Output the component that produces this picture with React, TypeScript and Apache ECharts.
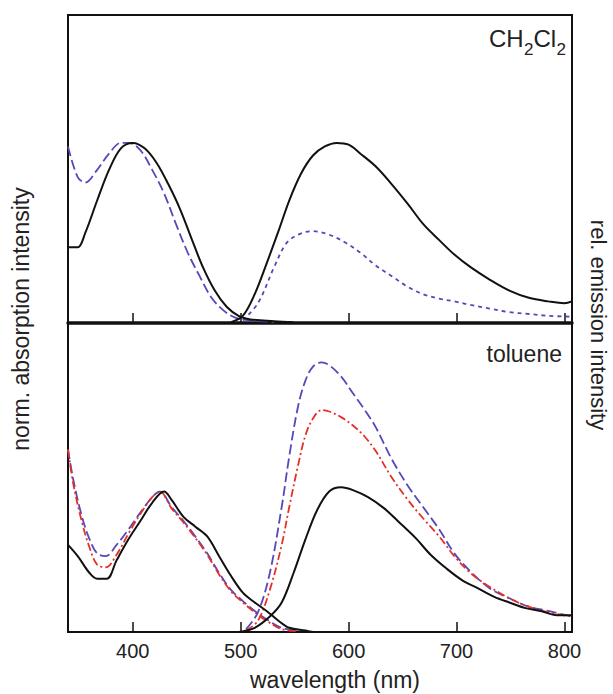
import React, { useEffect, useRef } from "react";
import * as echarts from "echarts";

// ---------- data (wavelength in nm, normalized intensity) ----------
// CH2Cl2 panel
const TOP_ABS_BLACK_X = [340, 349, 356, 367, 378, 389, 400, 411, 422, 433, 444, 455, 465, 476, 487, 498, 509, 531, 549];
const TOP_ABS_BLACK_Y = [0.42, 0.42, 0.5, 0.68, 0.85, 0.97, 1.0, 0.97, 0.89, 0.77, 0.63, 0.46, 0.31, 0.18, 0.09, 0.04, 0.02, 0.01, 0.004];

const TOP_ABS_BLUE_X = [340, 349, 356, 367, 378, 389, 396, 407, 418, 429, 440, 451, 462, 473, 484, 495, 509, 531];
const TOP_ABS_BLUE_Y = [0.98, 0.81, 0.78, 0.85, 0.94, 1.0, 1.0, 0.96, 0.85, 0.72, 0.55, 0.39, 0.26, 0.14, 0.07, 0.03, 0.015, 0.005];

const TOP_EM_BLACK_X = [491, 502, 513, 524, 535, 545, 556, 567, 578, 589, 600, 611, 625, 640, 655, 669, 684, 698, 713, 731, 749, 767, 785, 800, 807];
const TOP_EM_BLACK_Y = [0.005, 0.04, 0.16, 0.33, 0.51, 0.68, 0.83, 0.93, 0.98, 1.0, 0.99, 0.94, 0.87, 0.77, 0.66, 0.55, 0.46, 0.38, 0.31, 0.24, 0.18, 0.14, 0.12, 0.11, 0.12];

const TOP_EM_BLUE_X = [502, 516, 531, 542, 553, 567, 582, 596, 611, 625, 640, 655, 669, 684, 698, 713, 731, 749, 767, 785, 807];
const TOP_EM_BLUE_Y = [0.015, 0.11, 0.31, 0.44, 0.49, 0.51, 0.49, 0.45, 0.39, 0.32, 0.26, 0.2, 0.16, 0.135, 0.12, 0.1, 0.08, 0.06, 0.05, 0.04, 0.035];

// toluene panel
const BOT_ABS_BLACK_X = [340, 349, 360, 367, 376, 385, 396, 407, 418, 429, 436, 447, 458, 469, 480, 491, 502, 513, 524, 535, 545, 560, 567];
const BOT_ABS_BLACK_Y = [0.62, 0.54, 0.42, 0.38, 0.38, 0.51, 0.66, 0.79, 0.92, 1.0, 0.94, 0.82, 0.75, 0.68, 0.54, 0.4, 0.28, 0.21, 0.15, 0.08, 0.03, 0.01, 0.0];

const BOT_ABS_BLUE_X = [340, 345, 353, 360, 367, 375, 385, 396, 407, 418, 425, 436, 447, 458, 469, 480, 491, 502, 513, 524, 538, 553];
const BOT_ABS_BLUE_Y = [1.3, 1.08, 0.82, 0.66, 0.56, 0.54, 0.62, 0.73, 0.85, 0.96, 1.0, 0.89, 0.79, 0.68, 0.56, 0.42, 0.3, 0.22, 0.15, 0.09, 0.03, 0.01];

const BOT_ABS_RED_X = [340, 345, 353, 360, 367, 375, 385, 396, 407, 418, 425, 436, 447, 458, 469, 480, 491, 502, 513, 524, 538, 553];
const BOT_ABS_RED_Y = [1.3, 1.05, 0.78, 0.6, 0.48, 0.46, 0.55, 0.7, 0.84, 0.96, 1.0, 0.88, 0.78, 0.67, 0.55, 0.41, 0.29, 0.21, 0.14, 0.08, 0.02, 0.005];

const BOT_EM_BLACK_X = [498, 513, 527, 538, 549, 560, 571, 582, 593, 604, 618, 633, 647, 662, 676, 691, 705, 720, 735, 749, 764, 778, 793, 807];
const BOT_EM_BLACK_Y = [0.0, 0.03, 0.11, 0.21, 0.42, 0.66, 0.87, 1.0, 1.03, 1.01, 0.96, 0.88, 0.78, 0.67, 0.55, 0.45, 0.37, 0.31, 0.25, 0.21, 0.17, 0.15, 0.12, 0.12];

const BOT_EM_BLUE_X = [505, 516, 527, 538, 545, 553, 560, 567, 575, 582, 593, 604, 615, 625, 640, 655, 669, 684, 698, 713, 731, 749, 767, 785, 807];
const BOT_EM_BLUE_Y = [0.02, 0.14, 0.42, 0.89, 1.25, 1.6, 1.79, 1.89, 1.92, 1.9, 1.82, 1.7, 1.58, 1.46, 1.23, 1.04, 0.89, 0.73, 0.56, 0.43, 0.31, 0.24, 0.18, 0.15, 0.11];

const BOT_EM_RED_X = [505, 516, 527, 538, 545, 553, 560, 567, 575, 582, 593, 604, 615, 625, 640, 655, 669, 684, 698, 713, 731, 749, 767, 785, 807];
const BOT_EM_RED_Y = [0.01, 0.08, 0.3, 0.62, 0.89, 1.18, 1.4, 1.52, 1.58, 1.57, 1.53, 1.47, 1.39, 1.29, 1.1, 0.94, 0.81, 0.68, 0.54, 0.42, 0.32, 0.24, 0.18, 0.14, 0.11];

const X_TICKS = [400, 500, 600, 700, 800];
const X_MIN = 340;
const X_MAX = 807;
const TOP_Y_MAX = 1.71;
const BOT_Y_MAX = 2.2;

const FONT = "'Liberation Sans', Arial, Helvetica, sans-serif";
const BLACK = "#111111";
const BLUE = "#5548b8";
const RED = "#e5302a";

function pairs(xs: number[], ys: number[]) {
  return xs.map((x, i) => [x, ys[i]]);
}

function line(name: string, xs: number[], ys: number[], color: string, type: any, width: number, gridIdx: number, z: number) {
  return {
    name,
    type: "line",
    xAxisIndex: gridIdx,
    yAxisIndex: gridIdx,
    data: pairs(xs, ys),
    smooth: 0.35,
    symbol: "none",
    showSymbol: false,
    z,
    lineStyle: { color, width, type },
  };
}

export default function App() {
  const ref = useRef<HTMLDivElement>(null);
  useEffect(() => {
    document.body.style.margin = "0";
    const chart = echarts.init(ref.current!, null, { renderer: "svg" });
    const xAxisBase = (gridIndex: number, lineWidth: number, showLabels: boolean) => ({
      type: "value",
      gridIndex,
      min: X_MIN,
      max: X_MAX,
      splitLine: { show: false },
      axisLine: { show: true, onZero: false, lineStyle: { color: BLACK, width: lineWidth } },
      axisTick: {
        show: true,
        inside: true,
        length: 10,
        customValues: X_TICKS,
        lineStyle: { color: BLACK, width: 1.5 },
      },
      axisLabel: {
        show: showLabels,
        customValues: X_TICKS,
        fontSize: 20,
        fontFamily: FONT,
        color: "#222",
        margin: 9,
      },
    });
    const option = {
      animation: false,
      backgroundColor: "#ffffff",
      grid: [
        { left: 68, top: 15, width: 504, height: 308, show: true, borderColor: BLACK, borderWidth: 2, backgroundColor: "transparent" },
        { left: 68, top: 323, width: 504, height: 309, show: true, borderColor: BLACK, borderWidth: 2, backgroundColor: "transparent" },
      ],
      xAxis: [xAxisBase(0, 3.5, false), xAxisBase(1, 2, true)],
      yAxis: [
        { type: "value", gridIndex: 0, min: 0, max: TOP_Y_MAX, show: false },
        { type: "value", gridIndex: 1, min: 0, max: BOT_Y_MAX, show: false },
      ],
      series: [
        line("CH2Cl2 abs (blue)", TOP_ABS_BLUE_X, TOP_ABS_BLUE_Y, BLUE, [10, 4], 1.8, 0, 2),
        line("CH2Cl2 em (blue)", TOP_EM_BLUE_X, TOP_EM_BLUE_Y, BLUE, [4, 4], 1.8, 0, 2),
        line("CH2Cl2 abs (black)", TOP_ABS_BLACK_X, TOP_ABS_BLACK_Y, BLACK, "solid", 2, 0, 3),
        line("CH2Cl2 em (black)", TOP_EM_BLACK_X, TOP_EM_BLACK_Y, BLACK, "solid", 2, 0, 3),
        line("toluene abs (blue)", BOT_ABS_BLUE_X, BOT_ABS_BLUE_Y, BLUE, [10, 4], 1.8, 1, 2),
        line("toluene abs (red)", BOT_ABS_RED_X, BOT_ABS_RED_Y, RED, [8, 3, 2, 3], 1.8, 1, 2),
        line("toluene em (blue)", BOT_EM_BLUE_X, BOT_EM_BLUE_Y, BLUE, [10, 4], 1.8, 1, 2),
        line("toluene em (red)", BOT_EM_RED_X, BOT_EM_RED_Y, RED, [8, 3, 2, 3], 1.8, 1, 2),
        line("toluene abs (black)", BOT_ABS_BLACK_X, BOT_ABS_BLACK_Y, BLACK, "solid", 2, 1, 3),
        line("toluene em (black)", BOT_EM_BLACK_X, BOT_EM_BLACK_Y, BLACK, "solid", 2, 1, 3),
      ],
      graphic: [
        { type: "text", x: 489, y: 38, style: { text: "CH", fontSize: 24, fontFamily: FONT, fill: "#222", verticalAlign: "middle", align: "left" } },
        { type: "text", x: 524, y: 49, style: { text: "2", fontSize: 17, fontFamily: FONT, fill: "#222", verticalAlign: "middle", align: "left" } },
        { type: "text", x: 533.5, y: 38, style: { text: "Cl", fontSize: 24, fontFamily: FONT, fill: "#222", verticalAlign: "middle", align: "left" } },
        { type: "text", x: 556.5, y: 49, style: { text: "2", fontSize: 17, fontFamily: FONT, fill: "#222", verticalAlign: "middle", align: "left" } },
        { type: "text", x: 562, y: 354, style: { text: "toluene", fontSize: 23, fontFamily: FONT, fill: "#222", verticalAlign: "middle", align: "right" } },
        { type: "text", x: 335, y: 680, style: { text: "wavelength (nm)", fontSize: 23, fontFamily: FONT, fill: "#222", verticalAlign: "middle", align: "center" } },
        { type: "text", x: 21, y: 319, rotation: Math.PI / 2, style: { text: "norm. absorption intensity", fontSize: 23, fontFamily: FONT, fill: "#222", verticalAlign: "middle", align: "center" } },
        { type: "text", x: 598, y: 325, rotation: -Math.PI / 2, style: { text: "rel. emission intensity", fontSize: 22, fontFamily: FONT, fill: "#222", verticalAlign: "middle", align: "center" } },
      ],
    };
    chart.setOption(option as any);
    return () => chart.dispose();
  }, []);
  return <div ref={ref} style={{ width: 613, height: 694 }} />;
}
